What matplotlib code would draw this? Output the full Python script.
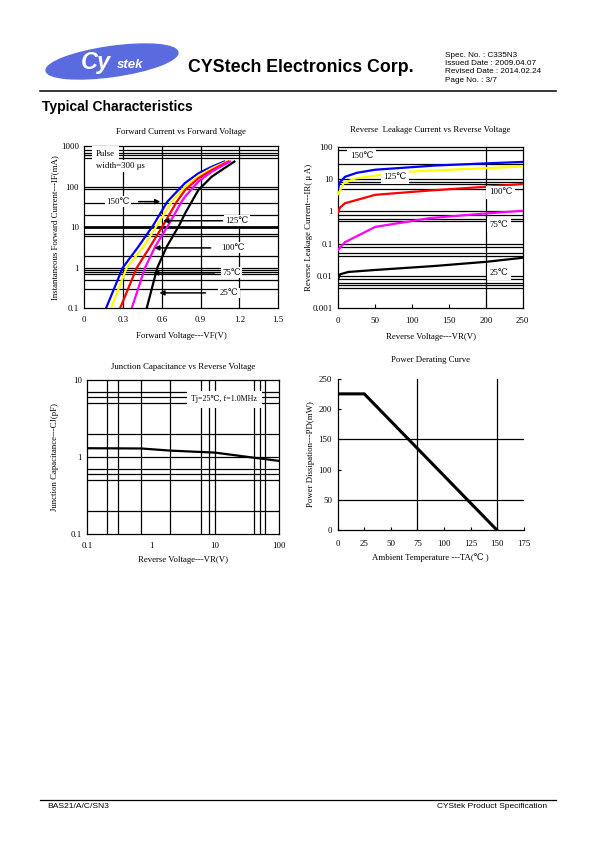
import matplotlib
matplotlib.use("Agg")
import matplotlib.pyplot as plt
from matplotlib.patches import Ellipse

# ---------------- data ----------------
# Forward current vs forward voltage (V, mA)
vf_150 = [0.168, 0.297, 0.418, 0.535, 0.643, 0.78, 0.883, 0.987, 1.084]
if_150 = [0.1, 1, 3.3, 11.4, 43, 124, 215, 313, 420]
vf_125 = [0.207, 0.328, 0.457, 0.565, 0.677, 0.78, 0.883, 0.987, 1.103]
if_125 = [0.1, 1, 3.3, 11.4, 43, 100, 185, 286, 420]
vf_100 = [0.277, 0.406, 0.509, 0.612, 0.716, 0.78, 0.883, 0.987, 1.115]
if_100 = [0.1, 1, 3.3, 11.4, 43, 83, 163, 260, 420]
vf_75 = [0.367, 0.47, 0.548, 0.651, 0.754, 0.78, 0.883, 0.987, 1.128]
if_75 = [0.1, 1, 3.3, 11.4, 43, 57, 134, 237, 420]
vf_25 = [0.483, 0.565, 0.638, 0.736, 0.78, 0.883, 0.987, 1.162]
if_25 = [0.1, 1, 3.3, 11.4, 22, 83, 178, 420]

# Reverse leakage current vs reverse voltage (V, uA)
vr_150 = [0, 2, 9, 25, 50, 131, 201, 250]
ir_150 = [5.5, 8, 12, 16, 20, 27, 31.6, 35]
vr_125 = [0, 7, 23, 60, 97, 124, 201, 250]
ir_125 = [3.5, 7.5, 10.7, 14, 17.4, 18.7, 22.5, 25]
vr_100 = [0, 2, 9, 50, 124, 201, 250]
ir_100 = [0.95, 1.3, 1.8, 3.3, 4.5, 5.9, 7.2]
vr_75 = [0, 9, 50, 124, 201, 250]
ir_75 = [0.065, 0.11, 0.33, 0.62, 0.87, 1.05]
vr_25 = [0, 2.3, 13.6, 50, 131, 201, 250]
ir_25 = [0.008, 0.011, 0.013, 0.015, 0.020, 0.027, 0.036]

# Junction capacitance vs reverse voltage (V, pF)
vr_cj = [0.1, 0.7, 2, 10, 40, 100]
cj = [1.30, 1.29, 1.21, 1.14, 0.98, 0.89]

# Power derating (degC, mW)
ta = [0, 25, 150]
pd = [225, 225, 0]

# ---------------- figure ----------------
W, H = 595, 842
fig = plt.figure(figsize=(W / 100, H / 100), dpi=100)

SERIF = ['Liberation Serif', 'DejaVu Serif', 'DejaVu Sans']
SANS = ['Liberation Sans', 'DejaVu Sans']
FS = 6.3

bg = fig.add_axes([0, 0, 1, 1])
bg.set_xlim(0, W)
bg.set_ylim(H, 0)
bg.axis('off')

# header
bg.add_patch(Ellipse((112, 61.5), 133, 30, angle=-8, color='#5a6be0', zorder=1))
bg.text(96, 62, 'Cy', color='white', fontsize=17, fontweight='bold', family=SANS,
        ha='center', va='center', style='italic', zorder=2)
bg.text(130, 65, 'stek', color='white', fontsize=9.5, fontweight='bold', family=SANS,
        ha='center', va='center', style='italic', zorder=2)
bg.text(188, 67, 'CYStech Electronics Corp.', fontsize=12.8, fontweight='bold',
        family=SANS, ha='left', va='center')
for i, s in enumerate(['Spec. No. : C335N3', 'Issued Date : 2009.04.07',
                       'Revised Date : 2014.02.24', 'Page No. : 3/7']):
    bg.text(445, 55.5 + i * 8.2, s, fontsize=5.9, family=SANS, ha='left', va='center')
bg.plot([40, 556], [91, 91], color='black', lw=1.1)
bg.text(42, 107, 'Typical Characteristics', fontsize=10, fontweight='bold',
        family=SANS, ha='left', va='center')

# footer
bg.plot([40, 556], [799.5, 799.5], color='black', lw=0.9)
bg.text(47, 806, 'BAS21/A/C/SN3', fontsize=6.1, family=SANS, ha='left', va='center')
bg.text(547, 806, 'CYStek Product Specification', fontsize=6.0, family=SANS,
        ha='right', va='center')


def ax_px(l, r, t, b):
    return fig.add_axes([l / W, 1 - b / H, (r - l) / W, (b - t) / H])


def style(ax, xpad=4, ypad=4):
    for sp in ax.spines.values():
        sp.set_linewidth(0.9)
    ax.tick_params(axis='both', which='both', labelsize=FS, direction='in',
                   length=0)
    ax.tick_params(axis='x', pad=xpad)
    ax.tick_params(axis='y', pad=ypad)
    ax.minorticks_off()
    for lbl in ax.get_xticklabels() + ax.get_yticklabels():
        lbl.set_family(SERIF)


GL = dict(color='black', lw=0.9, zorder=1)
BOX = dict(facecolor='white', edgecolor='none', pad=1.0)

# ---------- Plot 1 ----------
ax1 = ax_px(84.3, 278, 146.3, 308.3)
ax1.set_yscale('log')
ax1.set_xlim(0, 1.5)
ax1.set_ylim(0.1, 1000)
for v in [800, 700, 600, 500, 100, 90, 40, 20, 7, 6, 2, 1, 0.9, 0.8, 0.7, 0.5, 0.3]:
    ax1.axhline(v, **GL)
ax1.axhline(10, color='black', lw=2, zorder=1)
for v in [0.3, 0.6, 0.9, 1.2]:
    ax1.axvline(v, **GL)
for vx, iy, c in [(vf_150, if_150, 'blue'), (vf_125, if_125, 'yellow'),
                  (vf_100, if_100, 'red'), (vf_75, if_75, 'magenta'),
                  (vf_25, if_25, 'black')]:
    ax1.plot(vx, iy, color=c, lw=1.6, zorder=3)
ax1.set_xticks([0, 0.3, 0.6, 0.9, 1.2, 1.5])
ax1.set_xticklabels(['0', '0.3', '0.6', '0.9', '1.2', '1.5'])
ax1.set_yticks([0.1, 1, 10, 100, 1000])
ax1.set_yticklabels(['0.1', '1', '10', '100', '1000'])
style(ax1, xpad=5.5)
ax1.set_title('Forward Current vs Forward Voltage', fontsize=FS, family=SERIF, pad=9)
ax1.set_xlabel('Forward Voltage---VF(V)', fontsize=FS, family=SERIF, labelpad=6)
ax1.set_ylabel('Instantaneous Forward Current---IF(mA)', fontsize=FS, family=SERIF,
               labelpad=1)
ax1.text(0.09, 630, 'Pulse', fontsize=FS, family=SERIF, zorder=5, va='center',
         bbox=dict(facecolor='white', edgecolor='none', pad=3))
ax1.text(0.09, 330, 'width=300 μs', fontsize=FS, family=SERIF, zorder=5,
         va='center', bbox=dict(facecolor='white', edgecolor='none', pad=1.5))
AR = dict(arrowstyle='-|>', color='black', lw=1.1, mutation_scale=7)
ar1 = [('150℃', 0.26, 43, 0.40, 0.61, 43),
       ('125℃', 1.18, 14.5, 1.09, 0.59, 14.5),
       ('100℃', 1.15, 3.1, 1.0, 0.52, 3.1),
       ('75℃', 1.14, 0.75, 1.03, 0.51, 0.75),
       ('25℃', 1.12, 0.24, 0.96, 0.56, 0.24)]
for lab, tx, ty, x0, x1, y in ar1:
    ax1.annotate('', xy=(x1, y), xytext=(x0, y), arrowprops=AR, zorder=4)
    ax1.text(tx, ty, lab, fontsize=FS, family=SERIF, ha='center', va='center',
             zorder=5, bbox=BOX)

# ---------- Plot 2 ----------
ax2 = ax_px(338.3, 522.7, 147.3, 307.7)
ax2.set_yscale('log')
ax2.set_xlim(0, 250)
ax2.set_ylim(0.001, 100)
for v in [80, 30, 10, 8, 7, 5, 1, 0.8, 0.6, 0.5, 0.1, 0.08, 0.05, 0.04,
          0.01, 0.008, 0.006, 0.005, 0.004]:
    ax2.axhline(v, **GL)
ax2.axvline(200, **GL)
for vx, iy, c in [(vr_150, ir_150, 'blue'), (vr_125, ir_125, 'yellow'),
                  (vr_100, ir_100, 'red'), (vr_75, ir_75, 'magenta'),
                  (vr_25, ir_25, 'black')]:
    ax2.plot(vx, iy, color=c, lw=1.6, zorder=3)
ax2.set_xticks([0, 50, 100, 150, 200, 250])
ax2.set_yticks([0.001, 0.01, 0.1, 1, 10, 100])
ax2.set_yticklabels(['0.001', '0.01', '0.1', '1', '10', '100'])
style(ax2, xpad=6.5)
ax2.tick_params(axis='x', length=3)
ax2.set_title('Reverse  Leakage Current vs Reverse Voltage', fontsize=FS,
              family=SERIF, pad=11)
ax2.set_xlabel('Reverse Voltage---VR(V)', fontsize=FS, family=SERIF, labelpad=6)
ax2.set_ylabel('Reverse Leakage Current---IR( μ A)', fontsize=FS, family=SERIF,
               labelpad=-0.5)
for lab, x, y in [('150℃', 32, 55), ('125℃', 77, 11.5), ('100℃', 220, 3.9),
                  ('75℃', 218, 0.38), ('25℃', 218, 0.012)]:
    ax2.text(x, y, lab, fontsize=FS, family=SERIF, ha='center', va='center',
             zorder=5, bbox=dict(facecolor='white', edgecolor='none', pad=2))

# ---------- Plot 3 ----------
ax3 = ax_px(87.3, 279, 380, 534)
ax3.set_xscale('log')
ax3.set_yscale('log')
ax3.set_xlim(0.1, 100)
ax3.set_ylim(0.1, 10)
for v in [0.2, 0.5, 0.6, 0.7, 1, 2, 5, 6, 7]:
    ax3.axhline(v, **GL)
for v in [0.2, 0.3, 0.7, 2, 6, 8, 10, 40, 50, 60]:
    ax3.axvline(v, **GL)
ax3.plot(vr_cj, cj, color='black', lw=1.6, zorder=3)
ax3.set_xticks([0.1, 1, 10, 100])
ax3.set_xticklabels(['0.1', '1', '10', '100'])
ax3.set_yticks([0.1, 1, 10])
ax3.set_yticklabels(['0.1', '1', '10'])
style(ax3, xpad=6)
ax3.set_title('Junction Capacitance vs Reverse Voltage', fontsize=FS,
              family=SERIF, pad=8)
ax3.set_xlabel('Reverse Voltage---VR(V)', fontsize=FS, family=SERIF, labelpad=4)
ax3.set_ylabel('Junction Capacitance---CJ(pF)', fontsize=FS, family=SERIF, labelpad=8)
ax3.text(14, 5.6, 'Tj=25℃, f=1.0MHz', fontsize=5.8, family=SERIF, ha='center',
         va='center', zorder=5,
         bbox=dict(facecolor='white', edgecolor='none', pad=3))

# ---------- Plot 4 ----------
ax4 = ax_px(337.7, 523.7, 378.7, 530.3)
ax4.set_xlim(0, 175)
ax4.set_ylim(0, 250)
for v in [50, 150]:
    ax4.axhline(v, **GL)
for v in [75, 150]:
    ax4.axvline(v, **GL)
ax4.plot(ta, pd, color='black', lw=2.2, zorder=3)
ax4.set_xticks([0, 25, 50, 75, 100, 125, 150, 175])
ax4.set_yticks([0, 50, 100, 150, 200, 250])
style(ax4, xpad=7)
ax4.spines['top'].set_visible(False)
ax4.spines['right'].set_visible(False)
ax4.tick_params(axis='both', length=2)
ax4.set_title('Power Derating Curve', fontsize=FS, family=SERIF, pad=12)
ax4.set_xlabel('Ambient Temperature ---TA(℃ )', fontsize=FS, family=SERIF, labelpad=4)
ax4.set_ylabel('Power Dissipation---PD(mW)', fontsize=FS, family=SERIF, labelpad=2.5)

fig.savefig('out.png', dpi=100)
